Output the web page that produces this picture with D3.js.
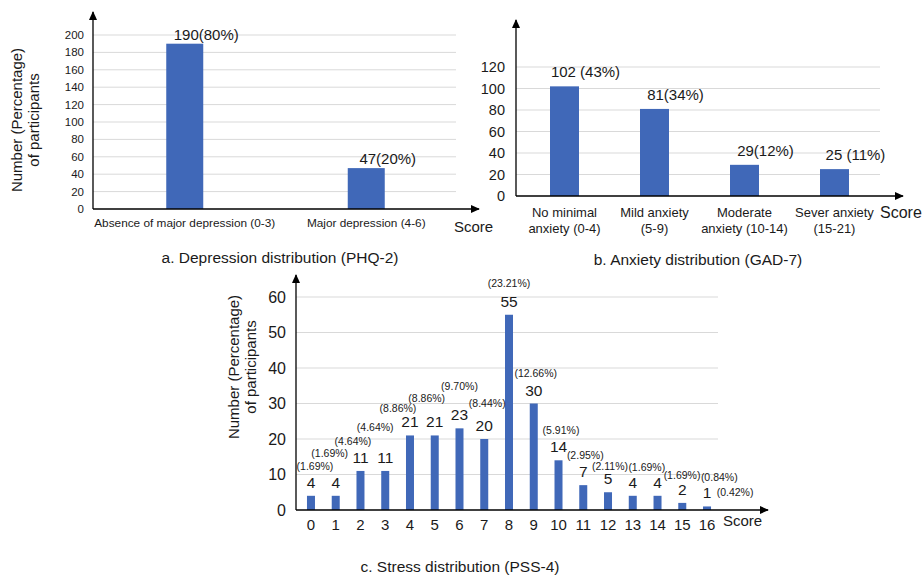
<!DOCTYPE html>
<html><head><meta charset="utf-8">
<script src="https://cdn.jsdelivr.net/npm/d3@7"></script>
<style>
body{margin:0;background:#fff}
svg{display:block}
text{font-family:"Liberation Sans",Arial,Helvetica,sans-serif;fill:#1a1a1a}
</style>
</head><body>
<svg id="chart" width="922" height="579"></svg>
<script>
// ---------- data ----------
const depCategories = ["Absence of major depression (0-3)", "Major depression (4-6)"];
const depCounts = [190, 47];
const depPercents = ["80%", "20%"];
const depTicks = [0, 20, 40, 60, 80, 100, 120, 140, 160, 180, 200];

const anxCategories = [["No minimal", "anxiety (0-4)"], ["Mild anxiety", "(5-9)"], ["Moderate", "anxiety (10-14)"], ["Sever anxiety", "(15-21)"]];
const anxCounts = [102, 81, 29, 25];
const anxPercents = ["43%", "34%", "12%", "11%"];
const anxSeparators = [" ", "", "", " "];
const anxTicks = [0, 20, 40, 60, 80, 100, 120];

const stressScores = ["0","1","2","3","4","5","6","7","8","9","10","11","12","13","14","15","16"];
const stressCounts = [4, 4, 11, 11, 21, 21, 23, 20, 55, 30, 14, 7, 5, 4, 4, 2, 1];
const stressPercents = ["1.69%","1.69%","4.64%","4.64%","8.86%","8.86%","9.70%","8.44%","23.21%","12.66%","5.91%","2.95%","2.11%","1.69%","1.69%","0.84%","0.42%"];
const stressTicks = [0, 10, 20, 30, 40, 50, 60];
// hand placement of percentage labels (offsets from bar centre / top)
const stressPctDx = [4, -6, -7.5, -10, -12, -8, 0, 3, 0, 2, 2.5, 2, 2, 14, 24.5, 37, 28];
const stressPctDy = [-26, -39, -26, -40, -23, -33.5, -38, -32, -28, -26.5, -26, -26, -22.5, -25, -16.5, -22, -10.5];

// ---------- style ----------
const BAR = "#4068b8";
const GRID = "#d9d9d9";
const svg = d3.select("#chart");

const defs = svg.append("defs");
defs.append("marker").attr("id", "arrow")
  .attr("viewBox", "0 0 10 10").attr("refX", 9).attr("refY", 5)
  .attr("markerWidth", 9).attr("markerHeight", 9).attr("markerUnits", "userSpaceOnUse")
  .attr("orient", "auto")
  .append("path").attr("d", "M0,0.5 L10,5 L0,9.5 Z").attr("fill", "#000");

function frame(g, x0, y0, gridEnd, y, ticks, tickFont, tickX) {
  g.selectAll(".grid").data(ticks.filter(t => t > 0)).join("line")
    .attr("x1", x0).attr("x2", gridEnd)
    .attr("y1", d => y(d)).attr("y2", d => y(d))
    .attr("stroke", GRID).attr("stroke-width", 1);
  g.selectAll(".tick").data(ticks).join("text")
    .attr("x", tickX).attr("y", d => y(d)).attr("dy", "0.35em")
    .attr("text-anchor", "end").style("font-size", tickFont + "px")
    .text(d => d);
}
function axes(g, x0, y0, yTop, xEnd) {
  g.append("line").attr("x1", x0).attr("x2", x0).attr("y1", y0).attr("y2", yTop)
    .attr("stroke", "#000").attr("stroke-width", 1.3).attr("marker-end", "url(#arrow)");
  g.append("line").attr("x1", x0).attr("x2", xEnd).attr("y1", y0).attr("y2", y0)
    .attr("stroke", "#000").attr("stroke-width", 1.3).attr("marker-end", "url(#arrow)");
}
function yTitle(g, cx, cy, font) {
  const t = g.append("text").attr("transform", `translate(${cx},${cy}) rotate(-90)`)
    .attr("text-anchor", "middle").style("font-size", font + "px");
  t.append("tspan").attr("x", 0).attr("dy", 0).text("Number (Percentage)");
  t.append("tspan").attr("x", 0).attr("dy", "1.15em").text("of participants");
}

// ---------- panel a ----------
{
  const g = svg.append("g");
  const x0 = 93, y0 = 209;
  const y = d3.scaleLinear().domain([0, 200]).range([y0, 35]);
  const x = d3.scalePoint().domain(depCategories).range([94, 457]).padding(0.5);
  frame(g, x0, y0, 456, y, depTicks, 11.5, 84);
  const bw = 37;
  g.selectAll(".bar").data(depCounts).join("rect")
    .attr("x", (d, i) => x(depCategories[i]) - bw / 2).attr("width", bw)
    .attr("y", d => y(d)).attr("height", d => y0 - y(d)).attr("fill", BAR);
  g.selectAll(".val").data(depCounts).join("text")
    .attr("x", (d, i) => x(depCategories[i]) + 21.5).attr("y", d => y(d) - 4)
    .attr("text-anchor", "middle").style("font-size", "15px")
    .text((d, i) => `${d}(${depPercents[i]})`);
  g.selectAll(".cat").data(depCategories).join("text")
    .attr("x", d => x(d)).attr("y", 227).attr("text-anchor", "middle")
    .style("font-size", "11.8px").text(d => d);
  axes(g, x0, y0, 12, 479);
  g.append("text").attr("x", 454).attr("y", 232).style("font-size", "15px").text("Score");
  yTitle(g, 22, 120, 15);
  g.append("text").attr("x", 280).attr("y", 263).attr("text-anchor", "middle")
    .style("font-size", "15.5px").text("a. Depression distribution (PHQ-2)");
}

// ---------- panel b ----------
{
  const g = svg.append("g");
  const x0 = 516, y0 = 196;
  const y = d3.scaleLinear().domain([0, 120]).range([y0, 67]);
  const x = d3.scalePoint().domain(anxCategories.map(d => d.join(" "))).range([519.5, 879.5]).padding(0.5);
  frame(g, x0, y0, 880, y, anxTicks, 14.5, 505);
  const bw = 29;
  g.selectAll(".bar").data(anxCounts).join("rect")
    .attr("x", (d, i) => x(anxCategories[i].join(" ")) - bw / 2).attr("width", bw)
    .attr("y", d => y(d)).attr("height", d => y0 - y(d)).attr("fill", BAR);
  g.selectAll(".val").data(anxCounts).join("text")
    .attr("x", (d, i) => x(anxCategories[i].join(" ")) + 21).attr("y", d => y(d) - 9)
    .attr("text-anchor", "middle").style("font-size", "15px")
    .text((d, i) => `${d}${anxSeparators[i]}(${anxPercents[i]})`);
  anxCategories.forEach((c, i) => {
    const t = g.append("text").attr("text-anchor", "middle").style("font-size", "13px");
    c.forEach((line, k) => t.append("tspan")
      .attr("x", x(c.join(" "))).attr("y", 216.5 + k * 16).text(line));
  });
  axes(g, x0, y0, 20, 903);
  g.append("text").attr("x", 880).attr("y", 217.5).style("font-size", "16px").text("Score");
  g.append("text").attr("x", 698).attr("y", 265).attr("text-anchor", "middle")
    .style("font-size", "15.5px").text("b. Anxiety distribution (GAD-7)");
}

// ---------- panel c ----------
{
  const g = svg.append("g");
  const x0 = 296, y0 = 510;
  const y = d3.scaleLinear().domain([0, 60]).range([y0, 297]);
  const x = d3.scalePoint().domain(stressScores).range([298.6, 719.4]).padding(0.5);
  frame(g, x0, y0, 718, y, stressTicks, 16, 286);
  const bw = 8;
  g.selectAll(".bar").data(stressCounts).join("rect")
    .attr("x", (d, i) => x(stressScores[i]) - bw / 2).attr("width", bw)
    .attr("y", d => y(d)).attr("height", d => y0 - y(d)).attr("fill", BAR);
  g.selectAll(".val").data(stressCounts).join("text")
    .attr("x", (d, i) => x(stressScores[i])).attr("y", d => y(d) - 8)
    .attr("text-anchor", "middle").style("font-size", "15.5px").text(d => d);
  g.selectAll(".pct").data(stressPercents).join("text")
    .attr("x", (d, i) => x(stressScores[i]) + stressPctDx[i])
    .attr("y", (d, i) => y(stressCounts[i]) + stressPctDy[i])
    .attr("text-anchor", "middle").style("font-size", "10.5px").text(d => `(${d})`);
  g.selectAll(".xt").data(stressScores).join("text")
    .attr("x", d => x(d)).attr("y", 529.5).attr("text-anchor", "middle")
    .style("font-size", "15px").text(d => d);
  axes(g, x0, y0, 275, 768);
  g.append("text").attr("x", 723).attr("y", 526).style("font-size", "15px").text("Score");
  yTitle(g, 239, 367, 15);
  g.append("text").attr("x", 460).attr("y", 572).attr("text-anchor", "middle")
    .style("font-size", "15.5px").text("c. Stress distribution (PSS-4)");
}
</script>
</body></html>
